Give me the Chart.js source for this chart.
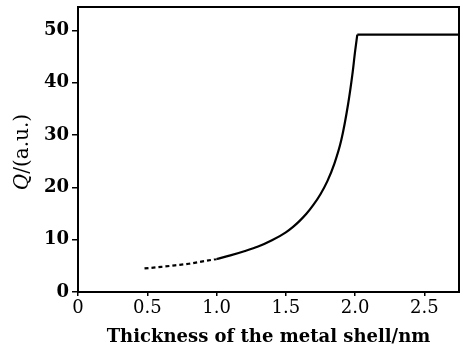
<!DOCTYPE html>
<html>
<head>
<meta charset="utf-8">
<script src="https://cdn.jsdelivr.net/npm/chart.js@4.4.1/dist/chart.umd.min.js"></script>
<style>
  html, body { margin: 0; padding: 0; background: #fff; }
  #wrap { width: 463px; height: 348px; }
</style>
</head>
<body>
<div id="wrap"><canvas id="myChart"></canvas></div>
<script>
'use strict';

// dashed part of the curve (thin shells)
var dashX = [0.48, 0.6, 0.7, 0.8, 0.9, 1.0];
var dashY = [4.5, 4.8, 5.1, 5.4, 5.85, 6.3];

// solid rising part, up to the jump
var riseX = [1.0, 1.1, 1.2, 1.3, 1.4, 1.5, 1.55, 1.6, 1.65, 1.7, 1.75, 1.8, 1.85, 1.9, 1.95, 1.98, 2.0, 2.016];
var riseY = [6.3, 7.0, 7.8, 8.7, 9.9, 11.4, 12.4, 13.6, 15.0, 16.7, 18.7, 21.2, 24.5, 29.0, 36, 41.5, 46, 49.2];

// flat top after the jump
var flatX = [2.016, 2.75];
var flatY = [49.2, 49.2];

var xTicks = [0, 0.5, 1.0, 1.5, 2.0, 2.5];
var yTicks = [0, 10, 20, 30, 40, 50];

function toPoints(xs, ys) {
  var pts = [];
  for (var i = 0; i < xs.length; i++) {
    pts.push({x: xs[i], y: ys[i]});
  }
  return pts;
}

var serif = "'DejaVu Serif', 'Liberation Serif', serif";

// box around the plot and the y title with an italic Q
var framePlugin = {
  id: 'frame',
  afterDraw: function(chart) {
    var c = chart.ctx, a = chart.chartArea;
    c.save();
    c.strokeStyle = '#000';
    c.lineWidth = 2;
    c.strokeRect(a.left, a.top, a.right - a.left, a.bottom - a.top);

    c.translate(23, 152);
    c.rotate(-Math.PI / 2);
    c.fillStyle = '#000';
    c.textBaseline = 'middle';
    c.font = 'italic 20px ' + serif;
    var w1 = c.measureText('Q').width;
    c.font = '20px ' + serif;
    var w2 = c.measureText('/(a.u.)').width;
    var x0 = -(w1 + w2) / 2;
    c.font = 'italic 20px ' + serif;
    c.fillText('Q', x0, 0);
    c.font = '20px ' + serif;
    c.fillText('/(a.u.)', x0 + w1, 0);
    c.restore();
  }
};

var line = function(xs, ys, extra) {
  var ds = {
    data: toPoints(xs, ys),
    borderColor: '#000',
    borderWidth: 2.2,
    pointRadius: 0,
    fill: false
  };
  for (var k in extra) ds[k] = extra[k];
  return ds;
};

var ctx = document.getElementById('myChart');
var myChart = new Chart(ctx, {
  type: 'line',
  data: {
    datasets: [
      line(dashX, dashY, { borderDash: [4, 3], cubicInterpolationMode: 'monotone' }),
      line(riseX, riseY, { cubicInterpolationMode: 'monotone' }),
      line(flatX, flatY, { tension: 0 })
    ]
  },
  options: {
    responsive: true,
    maintainAspectRatio: false,
    animation: false,
    layout: { padding: { left: 0, right: 4, top: 7, bottom: 0 } },
    plugins: {
      legend: { display: false },
      tooltip: { enabled: false }
    },
    scales: {
      x: {
        type: 'linear',
        min: 0,
        max: 2.75,
        afterFit: function(s) { s.height = 56; },
        afterBuildTicks: function(s) {
          s.ticks = xTicks.map(function(v) { return {value: v}; });
        },
        grid: { display: true, drawOnChartArea: false, tickLength: 4, color: '#000', lineWidth: 1.5 },
        border: { display: true, color: '#000', width: 2 },
        ticks: {
          color: '#000',
          padding: 2,
          font: { family: serif, size: 18 },
          callback: function(v) { return v === 0 ? '0' : v.toFixed(1); }
        },
        title: {
          display: true,
          text: 'Thickness of the metal shell/nm',
          color: '#000',
          padding: { top: 4, bottom: 0 },
          font: { family: serif, size: 18, weight: 'bold' }
        }
      },
      y: {
        min: 0,
        max: 54.5,
        afterFit: function(s) { s.width = 78; s.paddingTop = 0; },
        afterBuildTicks: function(s) {
          s.ticks = yTicks.map(function(v) { return {value: v}; });
        },
        grid: { display: true, drawOnChartArea: false, tickLength: 6, color: '#000', lineWidth: 1.5 },
        border: { display: true, color: '#000', width: 2 },
        ticks: {
          color: '#000',
          padding: 3,
          font: { family: serif, size: 18, weight: 'bold' }
        }
      }
    }
  },
  plugins: [framePlugin]
});
</script>
</body>
</html>
